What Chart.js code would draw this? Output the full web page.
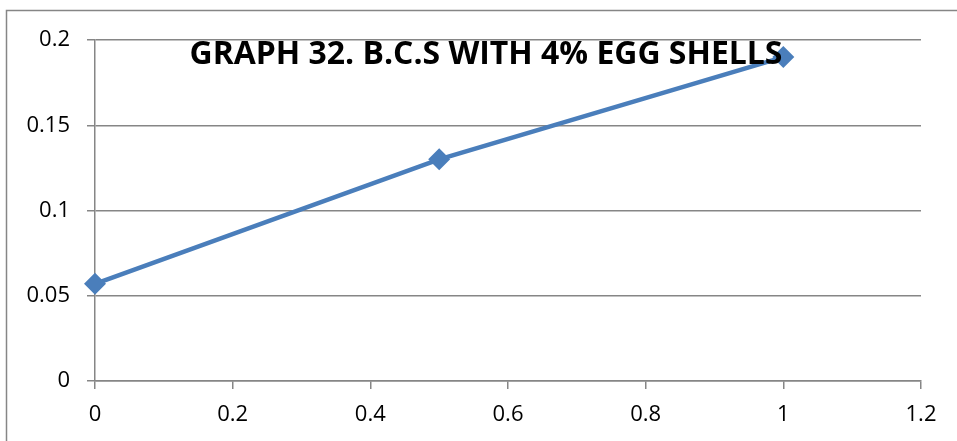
<!DOCTYPE html>
<html>
<head>
<meta charset="utf-8">
<script src="https://cdn.jsdelivr.net/npm/chart.js@4"></script>
<style>
  html, body { margin: 0; padding: 0; background: #fff; }
  #wrap { width: 957px; height: 441px; }
</style>
</head>
<body>
<div id="wrap"><canvas id="lineChart" width="957" height="441"></canvas></div>
<script>
const xValues = [0, 0.5, 1]
const yValues = [0.057, 0.13, 0.19]
const xTickLabels = ['0', '0.2', '0.4', '0.6', '0.8', '1', '1.2']
const yTickLabels = ['0', '0.05', '0.1', '0.15', '0.2']
const titleText = 'GRAPH 32. B.C.S WITH 4% EGG SHELLS'

const gridColor = '#868686'
const tickFont = { family: '"Open Sans", sans-serif', size: 22 }

// outer frame (cropped at right and bottom) and the title laid over the plot
const decor = {
  id: 'decor',
  beforeDraw(chart) {
    const ctx = chart.ctx
    ctx.save()
    ctx.strokeStyle = gridColor
    ctx.lineWidth = 1.5
    ctx.strokeRect(6.5, 10.5, chart.width + 20, chart.height + 20)
    ctx.restore()
  },
  afterDraw(chart) {
    const ctx = chart.ctx
    ctx.save()
    ctx.font = 'bold 24px "Open Sans", sans-serif'
    const w = ctx.measureText(titleText).width
    const size = 24 * 593 / w
    ctx.font = 'bold ' + size + 'px "Open Sans", sans-serif'
    ctx.fillStyle = '#000'
    ctx.textAlign = 'center'
    ctx.textBaseline = 'middle'
    ctx.fillText(titleText, 486, 55)
    ctx.restore()
  }
}

const context = document.getElementById('lineChart')

const chart = new Chart(context, {
  type: 'line',
  data: {
    datasets: [{
      data: xValues.map((x, i) => ({ x: x, y: yValues[i] })),
      borderColor: '#4A7EBB',
      backgroundColor: '#4A7EBB',
      borderWidth: 4.5,
      pointStyle: 'rectRot',
      pointRadius: 11,
      pointHoverRadius: 11,
      pointBorderWidth: 0,
      tension: 0,
      fill: false,
      clip: false
    }]
  },
  options: {
    responsive: false,
    animation: false,
    layout: {
      padding: { left: 0, right: 36, top: 40, bottom: 0 }
    },
    plugins: {
      legend: { display: false },
      title: { display: false },
      tooltip: { enabled: false }
    },
    scales: {
      x: {
        type: 'linear',
        min: 0,
        max: 1.2,
        ticks: {
          stepSize: 0.2,
          color: '#000',
          font: tickFont,
          padding: 13,
          maxRotation: 0,
          callback: (v, i) => xTickLabels[i]
        },
        grid: {
          drawOnChartArea: false,
          drawTicks: true,
          tickLength: 8,
          color: gridColor,
          lineWidth: 1.5
        },
        border: { color: gridColor, width: 1.5 },
        afterFit: (scale) => { scale.height = 60 }
      },
      y: {
        min: 0,
        max: 0.2,
        ticks: {
          stepSize: 0.05,
          color: '#000',
          font: tickFont,
          padding: 17,
          callback: (v, i) => yTickLabels[i]
        },
        grid: {
          drawOnChartArea: true,
          drawTicks: true,
          tickLength: 8,
          color: gridColor,
          lineWidth: 1.5
        },
        border: { color: gridColor, width: 1.5 },
        afterFit: (scale) => { scale.width = 95 }
      }
    }
  },
  plugins: [decor]
})
</script>
</body>
</html>
